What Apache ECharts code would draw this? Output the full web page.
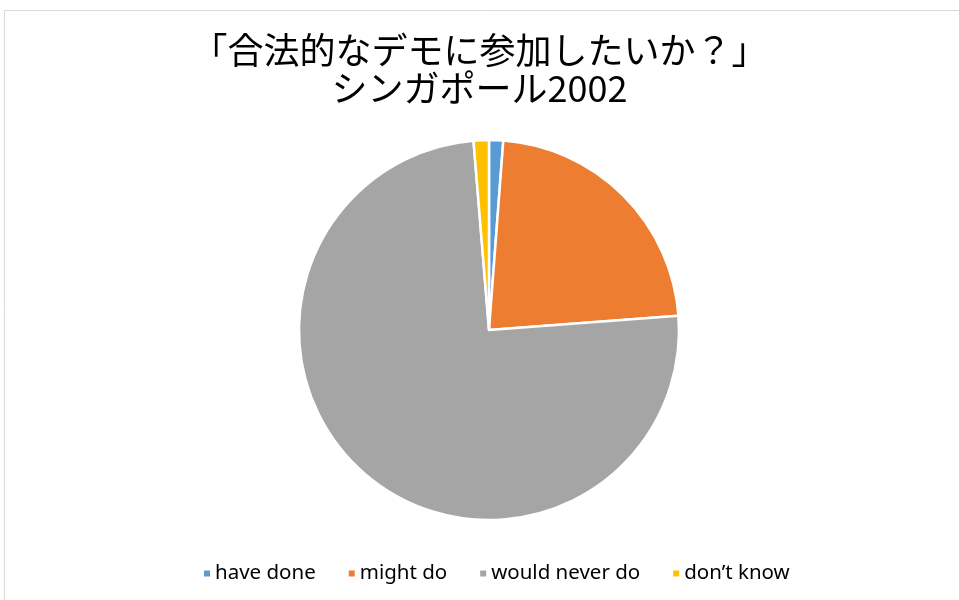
<!DOCTYPE html>
<html><head><meta charset="utf-8">
<script src="https://cdn.jsdelivr.net/npm/echarts@6/dist/echarts.min.js"></script>
<style>html,body{margin:0;padding:0;background:#fff}#c{width:959px;height:600px}</style>
</head><body><div id="c"></div>
<script>
const categories = ["have done", "might do", "would never do", "don’t know"];
const values = [1.2, 22.6, 74.9, 1.3];
const colors = ["#5B9BD5", "#ED7D31", "#A5A5A5", "#FFC000"];
const titleText = "「合法的なデモに参加したいか？」\nシンガポール2002";

const chart = echarts.init(document.getElementById('c'), null, {renderer: 'canvas'});
chart.setOption({
  animation: false,
  backgroundColor: '#fff',
  graphic: [{
    type: 'rect', shape: {x: 4.5, y: 10.5, width: 1000, height: 700},
    style: {fill: 'none', stroke: '#d9d9d9', lineWidth: 1}, silent: true
  }],
  title: {
    text: titleText, left: 'center', top: 26,
    textStyle: {fontFamily: '"Noto Sans CJK JP"', fontSize: 36, fontWeight: 'normal', color: '#000', lineHeight: 38}
  },
  color: colors,
  legend: {
    bottom: 11, left: 197, icon: 'rect', itemWidth: 8, itemHeight: 8, itemGap: 31,
    textStyle: {fontFamily: '"Noto Sans", sans-serif', fontSize: 20.5, color: '#000', padding: [0,0,0,-1]},
    data: categories
  },
  series: [{
    type: 'pie', center: [489, 330], radius: 190, startAngle: 90, clockwise: true,
    label: {show: false}, labelLine: {show: false},
    itemStyle: {borderColor: '#fff', borderWidth: 2.5},
    data: categories.map((c, i) => ({name: c, value: values[i]}))
  }]
});
</script></body></html>
